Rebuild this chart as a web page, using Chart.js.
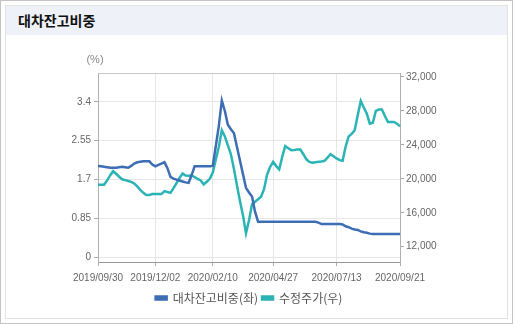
<!DOCTYPE html>
<html>
<head>
<meta charset="utf-8">
<script src="https://cdn.jsdelivr.net/npm/chart.js@4"></script>
<style>
body{margin:0;background:#fff;}
#box{position:absolute;left:0;top:0;width:511px;height:322px;border:1px solid #c4c4c4;}
#inner{position:absolute;left:4px;top:4px;width:501px;height:312px;border:1px solid #e2e2e2;}
#head{height:29px;background:#eef1f8;font:bold 14px 'Noto Sans CJK KR';line-height:29px;padding-left:12px;color:#111;}
canvas{position:absolute;left:0;top:0;}
</style>
</head>
<body>
<div id="box"><div id="inner"><div id="head">대차잔고비중</div></div></div>
<canvas id="loanChart" width="513" height="324"></canvas>
<script>
// tick dates and the point index each one sits on
const tickDates = ['2019/09/30', '2019/12/02', '2020/02/10', '2020/04/27', '2020/07/13', '2020/09/21'];
const tickIdx = [0, 19, 38, 58, 79, 100];

// 대차잔고비중 (%), left axis
const loanRatio = [
  2.0, 1.99, 1.98, 1.97, 1.96, 1.96, 1.96, 1.97, 1.98, 1.97,
  1.96, 2.0, 2.05, 2.08, 2.09, 2.1, 2.1, 2.1, 2.03, 1.99,
  2.02, 2.05, 2.08, 1.95, 1.76, 1.72, 1.7, 1.68, 1.66, 1.64,
  1.63, 1.8, 1.99, 1.99, 1.99, 1.99, 1.99, 1.99, 2.0, 2.43,
  2.87, 3.43, 3.2, 2.9, 2.8, 2.72, 2.42, 2.12, 1.82, 1.52,
  1.42, 1.33, 1.0, 0.78, 0.78, 0.78, 0.78, 0.78, 0.78, 0.78,
  0.78, 0.78, 0.78, 0.78, 0.78, 0.78, 0.78, 0.78, 0.78, 0.78,
  0.78, 0.78, 0.78, 0.76, 0.73, 0.73, 0.73, 0.73, 0.73, 0.73,
  0.73, 0.72, 0.68, 0.66, 0.63, 0.61, 0.6, 0.57, 0.55, 0.54,
  0.52, 0.51, 0.51, 0.51, 0.51, 0.51, 0.51, 0.51, 0.51, 0.51,
  0.51
];

// 수정주가 (원), right axis
const adjPrice = [
  19300, 19300, 19300, 19800, 20400, 20900, 20600, 20250, 19950, 19850,
  19750, 19650, 19450, 19100, 18700, 18350, 18100, 18100, 18200, 18200,
  18200, 18200, 18550, 18450, 18350, 18900, 19500, 20100, 20640, 20400,
  20350, 20400, 20200, 20000, 19800, 19350, 19650, 20000, 20750, 22250,
  23750, 25730, 25000, 23950, 22900, 21200, 19250, 17400, 15700, 13600,
  15100, 17000, 17300, 17600, 17900, 18800, 20500, 21400, 22000, 21500,
  21100, 22600, 23850, 23600, 23380, 23400, 23450, 23460, 22900, 22300,
  22000, 21900, 21950, 22000, 22050, 22120, 22500, 22900, 22650, 22400,
  22200, 22120, 23800, 25000, 25300, 25730, 27500, 29180, 28400, 27690,
  26500, 26600, 28000, 28160, 28160, 27400, 26700, 26700, 26700, 26500,
  26200
];

const leftTicks = [0, 0.85, 1.7, 2.55, 3.4];
const rightTicks = [12000, 16000, 20000, 24000, 28000, 32000];

const labels = loanRatio.map((v, i) => {
  const k = tickIdx.indexOf(i);
  return k >= 0 ? tickDates[k] : '';
});

const tickFont = {family: "'Liberation Sans', Arial", size: 10};
const tickGray = '#666';

// top border of the plot and the unit label over the left axis
const framePlugin = {
  id: 'frame',
  afterDraw(chart) {
    const {ctx, chartArea} = chart;
    ctx.save();
    ctx.strokeStyle = '#c8c8c8';
    ctx.lineWidth = 1;
    ctx.beginPath();
    ctx.moveTo(chartArea.left, Math.round(chartArea.top) + 0.5);
    ctx.lineTo(chartArea.right, Math.round(chartArea.top) + 0.5);
    ctx.stroke();
    ctx.fillStyle = '#888';
    ctx.font = "11px 'Liberation Sans', Arial";
    ctx.textAlign = 'center';
    ctx.textBaseline = 'middle';
    ctx.fillText('(%)', 95, 60);
    ctx.restore();
  }
};

new Chart(document.getElementById('loanChart'), {
  type: 'line',
  data: {
    labels: labels,
    datasets: [
      {label: '대차잔고비중(좌)', data: loanRatio, yAxisID: 'y', borderColor: '#3d6db5', backgroundColor: '#3d6db5', borderWidth: 2.5, pointRadius: 0, tension: 0},
      {label: '수정주가(우)', data: adjPrice, yAxisID: 'y2', borderColor: '#2bb3b5', backgroundColor: '#2bb3b5', borderWidth: 2.5, pointRadius: 0, tension: 0}
    ]
  },
  options: {
    responsive: false,
    animation: false,
    layout: {padding: {top: 73, left: 0, right: 0, bottom: 10}},
    plugins: {
      tooltip: {enabled: false},
      legend: {
        position: 'bottom',
        fullSize: false,
        labels: {
          boxWidth: 11, boxHeight: 3, padding: 4, color: '#555',
          font: {family: "'Noto Sans CJK KR'", size: 12}
        }
      }
    },
    scales: {
      x: {
        offset: false,
        afterBuildTicks: s => { s.ticks = tickIdx.map(v => ({value: v})); },
        afterFit: s => { s.height = 26; },
        ticks: {autoSkip: false, maxRotation: 0, color: tickGray, font: tickFont, padding: 6},
        grid: {color: '#e6e6e6', tickColor: '#aaa', tickLength: 4},
        border: {color: '#999'}
      },
      y: {
        position: 'left',
        min: -0.1, max: 4.03,
        afterBuildTicks: s => { s.ticks = leftTicks.map(v => ({value: v})); },
        afterFit: s => { s.width = 98; },
        ticks: {color: tickGray, font: tickFont, padding: 3, callback: v => String(v)},
        grid: {color: '#e6e6e6', tickColor: '#aaa', tickLength: 4},
        border: {color: '#b0b0b0'}
      },
      y2: {
        position: 'right',
        min: 10200, max: 32470,
        afterBuildTicks: s => { s.ticks = rightTicks.map(v => ({value: v})); },
        afterFit: s => { s.width = 113; },
        ticks: {color: tickGray, font: tickFont, padding: 2, callback: v => v.toLocaleString('en-US')},
        grid: {drawOnChartArea: false, tickColor: '#aaa', tickLength: 4},
        border: {color: '#b0b0b0'}
      }
    }
  },
  plugins: [framePlugin]
});
</script>
</body>
</html>
